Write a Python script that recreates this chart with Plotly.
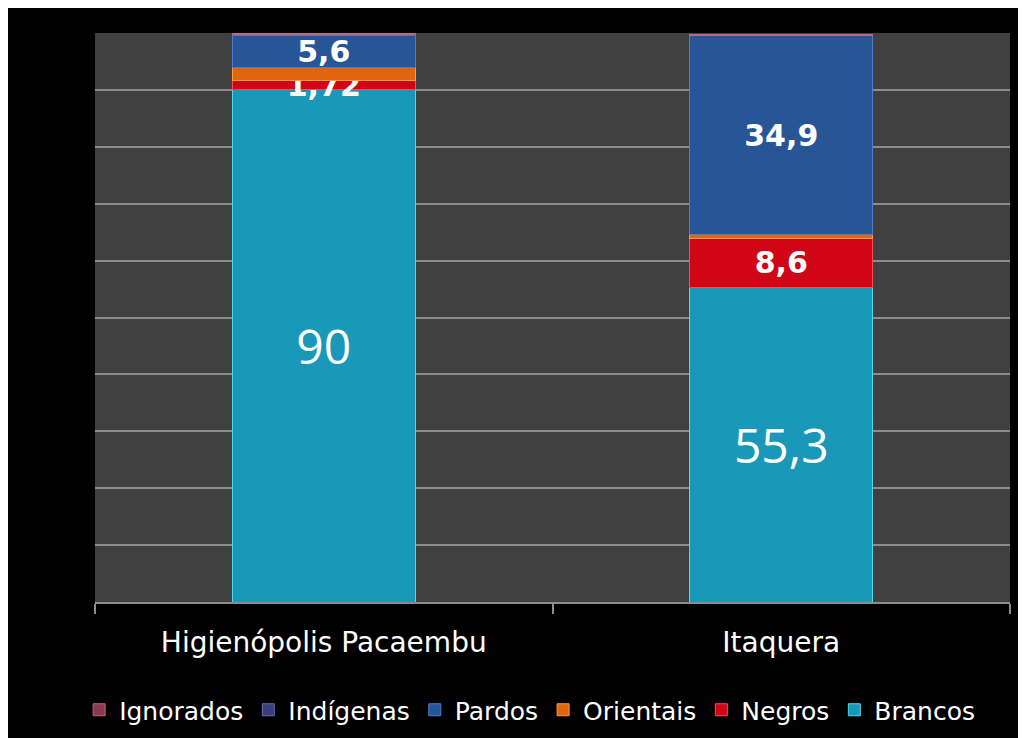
import plotly.graph_objects as go

categories = ["Higienópolis Pacaembu", "Itaquera"]
series_names = ["Brancos", "Negros", "Orientais", "Pardos", "Indígenas", "Ignorados"]
brancos = [90, 55.3]
negros = [1.72, 8.6]
orientais = [2.3, 0.7]
pardos = [5.6, 34.9]
indigenas = [0.1, 0.1]
ignorados = [0.2, 0.2]
labelled = {"Brancos": True, "Negros": True, "Orientais": False, "Pardos": True,
            "Indígenas": False, "Ignorados": False}

values = [brancos, negros, orientais, pardos, indigenas, ignorados]
colors = ["#1a98ba", "#d00515", "#e0650f", "#285596", "#3b3e7c", "#8a3a50"]
edges = ["#4fd8f0", "#ff4a55", "#ff9a40", "#4a7fd0", "#6a6db0", "#b86a80"]

FONT = "DejaVu Sans"
BIG_FONT = "Open Sans"

def fmt(v):
    s = ("%g" % v)
    return s.replace(".", ",")

fig = go.Figure()
for name, vals, col, edge in zip(series_names, values, colors, edges):
    if labelled[name]:
        texts = [fmt(v) if name == "Brancos" else "<b>%s</b>" % fmt(v) for v in vals]
    else:
        texts = ["" for v in vals]
    if name == "Brancos":
        tf = dict(family=BIG_FONT, size=48, color="white")
    else:
        tf = dict(family=FONT, size=30, color="white")
    fig.add_trace(go.Bar(
        name=name, x=categories, y=vals,
        marker=dict(color=col, line=dict(color=edge, width=1)),
        text=texts, textposition="inside", insidetextanchor="middle",
        textangle=0, constraintext="none",
        textfont=tf,
        hoverinfo="skip",
    ))

W, H = 1026, 738
L, R, T, B = 87, 24, 25, 144
pw, ph = W - L - R, H - T - B

def px_y(p):
    return (H - B - p) / ph

fig.update_layout(
    width=W, height=H,
    margin=dict(l=L, r=R, t=T, b=B),
    barmode="stack", bargap=0.6,
    paper_bgcolor="black", plot_bgcolor="#404040",
    font=dict(family=FONT, color="white"),
    showlegend=True,
    legend=dict(orientation="h", x=0.475, xanchor="center", y=px_y(702),
                yanchor="middle", traceorder="reversed",
                font=dict(family=FONT, size=25, color="white"),
                itemwidth=30, bgcolor="rgba(0,0,0,0)"),
    xaxis=dict(showline=True, linecolor="#8c8c8c", linewidth=2,
               ticks="outside", tickson="boundaries", ticklen=10,
               tickcolor="#8c8c8c", tickwidth=2,
               ticklabelstandoff=14,
               tickfont=dict(family=FONT, size=28, color="white"),
               showgrid=False),
    yaxis=dict(range=[0, 100], dtick=10, showticklabels=False,
               showgrid=True, gridcolor="#8c8c8c", gridwidth=2,
               zeroline=False, showline=False, ticks=""),
    hovermode=False,
)

fig.write_html("out.html")
